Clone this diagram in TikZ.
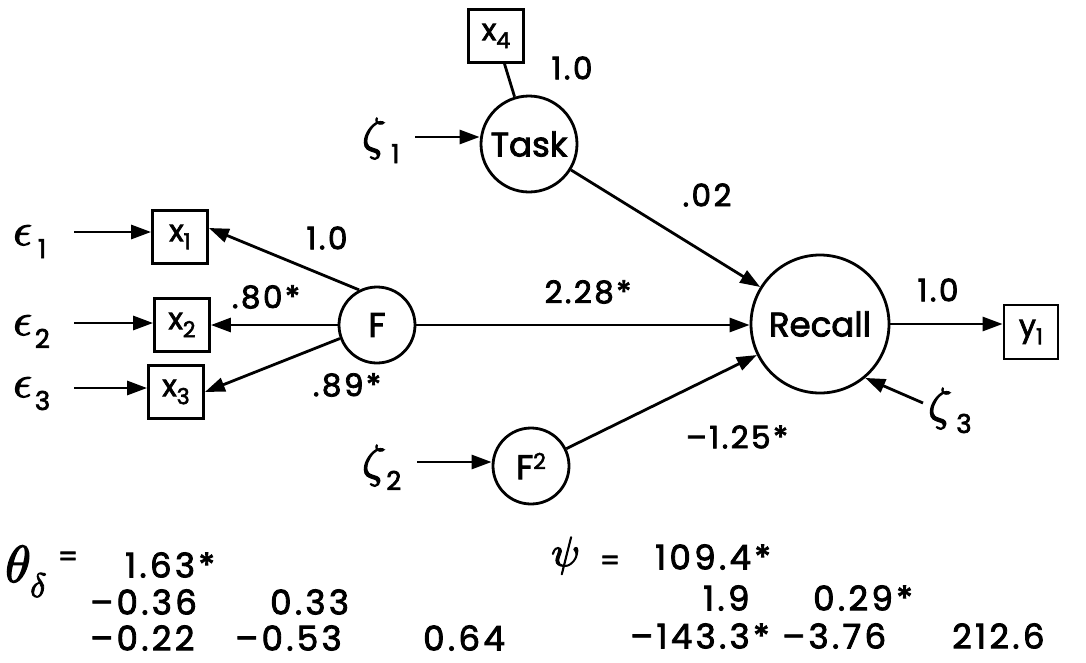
\documentclass[tikz,border=0pt]{standalone}
\usepackage{fontspec}
\usepackage{unicode-math}
\setmainfont{Poppins}[FakeBold=2.5]
\setmathfont{Latin Modern Math}[FakeBold=2.5]
\usetikzlibrary{arrows.meta,calc}

% lowered index digits for the Greek error labels and the indicator boxes
\newcommand{\lowsub}[1]{\raisebox{-13pt}{\fontsize{26}{26}\selectfont #1}}
\newcommand{\boxsub}[1]{\raisebox{-8pt}{\fontsize{22}{22}\selectfont #1}}

\begin{document}
\begin{tikzpicture}[x=1pt,y=-1pt,
  lw/.style={line width=2.8pt},
  arr/.style={lw,-{Triangle[length=20pt,width=14pt]}},
  obs/.style={draw,lw,minimum width=55pt,minimum height=53pt,inner sep=0pt,
              font=\fontsize{30}{30}\selectfont},
  lat/.style={draw,lw,circle,inner sep=0pt,font=\fontsize{34}{34}\selectfont},
  coef/.style={font=\fontsize{31}{31}\selectfont\addfontfeatures{LetterSpace=8},inner sep=0pt},
  greek/.style={font=\fontsize{46}{46}\selectfont,inner sep=0pt,anchor=base west},
  mat/.style={font=\fontsize{34}{34}\selectfont\addfontfeatures{LetterSpace=10},inner sep=0pt,anchor=west}]
\useasboundingbox (0,0) rectangle (1086,662);

% indicators and latent variables
\node[obs] (x4) at (496,36) {x\boxsub{4}};
\node[lat,minimum size=96pt] (task) at (529,144) {Task};
\node[lat,minimum size=138pt] (recall) at (820,324) {Recall};
\node[obs,minimum width=54pt,minimum height=54pt] (y1) at (1031,332) {y\boxsub{1}};
\node[lat,minimum size=76pt] (F) at (377,325) {F};
\node[lat,minimum size=76pt] (F2) at (531,466) {F\raisebox{10pt}{\fontsize{22}{22}\selectfont 2}};
\node[obs] (x1) at (180,237) {x\boxsub{1}};
\node[obs] (x2) at (182,325) {x\boxsub{2}};
\node[obs] (x3) at (176,392) {x\boxsub{3}};

% error and disturbance terms
\node[greek] (e1) at (13,245) {$\epsilon$\hspace{6pt}\lowsub{1}};
\node[greek] (e2) at (13,335) {$\epsilon$\hspace{3pt}\lowsub{2}};
\node[greek] (e3) at (13,397) {$\epsilon$\hspace{3pt}\lowsub{3}};
\node[greek] (z1) at (362,150) {$\zeta$\hspace{6pt}\lowsub{1}};
\node[greek] (z2) at (362,477) {$\zeta$\hspace{1pt}\lowsub{2}};
\node[greek] (z3) at (928,420) {$\zeta$\hspace{5pt}\lowsub{3}};

\coordinate (e1s) at (74,232);
\coordinate (e2s) at (74,323);
\coordinate (e3s) at (74,388);
\coordinate (z1s) at (415,137);
\coordinate (z2s) at (417,462);
\coordinate (z3s) at (923,403);

% paths
\draw[arr] (e1s) -- (x1.west |- e1s);
\draw[arr] (e2s) -- (x2.west |- e2s);
\draw[arr] (e3s) -- (x3.west |- e3s);
\draw[arr] (z1s) -- (task.west |- z1s);
\draw[arr] (z2s) -- (F2.west |- z2s);
\draw[arr] (z3s) -- (recall.-50);
\draw[lw] (x4) -- (task);
\draw[arr] (F.117) -- ($(x1.east)+(0,-9)$);
\draw[arr] (F) -- (x2);
\draw[arr] (F.200) -- (x3.east);
\draw[arr] (task) -- (recall);
\draw[arr] (F) -- (recall.west |- F);
\draw[arr] (F2) -- (recall);
\draw[arr] (recall) -- (y1.west |- recall);

% path coefficients
\node[coef] (c1) at (572,68) {1.0};
\node[coef] (c2) at (707,195) {.02};
\node[coef] (c3) at (588,292) {2.28*};
\node[coef] (c4) at (938,290) {1.0};
\node[coef] (c5) at (737,437) {–1.25*};
\node[coef] (c6) at (327,238) {1.0};
\node[coef] (c7) at (266,297) {.80*};
\node[coef] (c8) at (347,385) {.89*};

% error covariance matrices
\node[inner sep=0pt,anchor=base west,font=\fontsize{52}{52}\selectfont] (th) at (5,582) {$\theta$};
\node[inner sep=0pt,anchor=base west,font=\fontsize{34}{34}\selectfont] (de) at (30,597) {$\delta$};
\node[inner sep=0pt,font=\fontsize{28}{28}\selectfont] (eq1) at (68,559) {=};
\node[mat] (t11) at (125,565) {1.63*};
\node[mat] (t21) at (90,602) {–0.36};
\node[mat] (t22) at (270,602) {0.33};
\node[mat] (t31) at (90,638) {–0.22};
\node[mat] (t32) at (235,638) {–0.53};
\node[mat] (t33) at (423,638) {0.64};

\node[inner sep=0pt,anchor=base west,font=\fontsize{42}{42}\selectfont] (ps) at (551,566) {$\psi$};
\node[inner sep=0pt,font=\fontsize{28}{28}\selectfont] (eq2) at (610,563) {=};
\node[mat] (p11) at (655,557) {109.4*};
\node[mat] (p21) at (703,598) {1.9};
\node[mat] (p22) at (813,598) {0.29*};
\node[mat] (p31) at (630,636) {–143.3*};
\node[mat] (p32) at (782,636) {–3.76};
\node[mat] (p33) at (952,636) {212.6};
\end{tikzpicture}
\end{document}
